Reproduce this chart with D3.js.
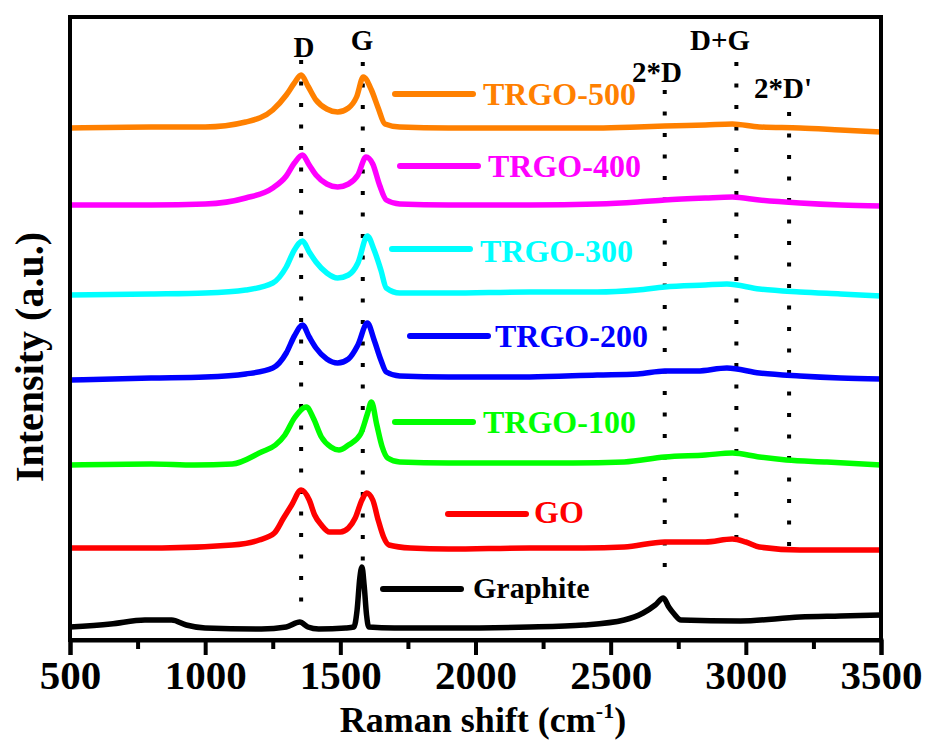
<!DOCTYPE html>
<html>
<head>
<meta charset="utf-8">
<script src="https://cdn.jsdelivr.net/npm/d3@7"></script>
<style>
  body { margin: 0; background: #fff; }
  text { font-family: "Liberation Serif", "Times New Roman", serif; font-weight: bold; }
</style>
</head>
<body>
<svg id="chart"></svg>
<script>
// series, top to bottom in the picture
var names = ["TRGO-500", "TRGO-400", "TRGO-300", "TRGO-200", "TRGO-100", "GO", "Graphite"];
var colors = ["#ff8000", "#ff00ff", "#00ffff", "#0000ff", "#00ff00", "#ff0000", "#000000"];

// [Raman shift, intensity (offset a.u.)]
var trgo500 = [[500,512],[800,513],[1000,513],[1150,518],[1250,530],[1300,545],[1330,557],[1355,565],[1380,554],[1410,540],[1450,531],[1490,528],[1530,532],[1560,543],[1585,563],[1615,550],[1640,532],[1665,516],[1720,513],[1900,512],[2200,512],[2450,512],[2600,513],[2700,514],[2850,515],[2950,516],[3050,513],[3200,512],[3350,510],[3500,508]];
var trgo400 = [[500,435],[800,435],[1000,436],[1150,442],[1250,452],[1300,464],[1330,477],[1360,485],[1385,475],[1410,465],[1450,456],[1490,453],[1530,456],[1565,465],[1595,483],[1620,476],[1645,455],[1670,440],[1720,436],[1900,435],[2200,435],[2450,436],[2600,438],[2700,440],[2850,442],[2950,443],[3050,440],[3200,437],[3350,435],[3500,434]];
var trgo300 = [[500,345],[800,346],[1000,347],[1150,350],[1250,357],[1300,373],[1330,390],[1360,399],[1385,388],[1410,378],[1450,367],[1490,362],[1530,365],[1565,377],[1600,404],[1625,390],[1650,370],[1670,352],[1720,347],[1900,347],[2200,348],[2450,348],[2600,350],[2700,353],[2850,355],[2930,356],[3050,351],[3200,348],[3350,346],[3500,344]];
var trgo200 = [[500,260],[800,262],[1000,263],[1150,266],[1250,272],[1300,287],[1330,304],[1360,315],[1385,303],[1410,292],[1450,281],[1490,277],[1530,281],[1565,295],[1600,317],[1625,300],[1650,280],[1670,268],[1720,264],[1900,263],[2200,263],[2450,265],[2600,266],[2700,269],[2820,269],[2930,272],[3050,267],[3200,264],[3350,262],[3500,261]];
var trgo100 = [[500,175],[800,176],[961,175],[1100,176],[1208,188],[1260,195],[1295,205],[1330,222],[1375,233],[1400,222],[1430,203],[1465,193],[1495,190],[1530,195],[1575,206],[1600,226],[1615,238],[1635,215],[1655,193],[1675,182],[1720,178],[1900,177],[2200,177],[2360,177],[2550,178],[2700,183],[2850,185],[2950,187],[3050,183],[3150,180],[3300,178],[3500,175]];
var go = [[500,92],[840,92],[1100,95],[1200,100],[1256,107],[1290,122],[1320,135],[1355,150],[1385,140],[1405,125],[1430,115],[1460,108],[1500,108],[1530,112],[1555,122],[1580,140],[1597,147],[1620,140],[1640,120],[1660,103],[1680,95],[1760,92],[1900,91],[2200,92],[2400,92],[2550,93],[2700,98],[2850,98],[2950,101],[3000,98],[3050,93],[3200,90],[3500,90]];
var graphite = [[500,13],[650,16],[777,20],[876,20],[930,15],[1000,12],[1208,11],[1300,13],[1350,18],[1380,13],[1420,11],[1520,12],[1550,13],[1562,30],[1572,62],[1580,73],[1588,55],[1597,25],[1605,13],[1700,12],[1900,12],[2200,13],[2400,15],[2550,20],[2620,27],[2665,35],[2695,42],[2715,33],[2735,26],[2760,20],[2980,19],[3200,23],[3350,24],[3500,25]];
var spectra = [trgo500, trgo400, trgo300, trgo200, trgo100, go, graphite];

// peak markers: position (cm-1) and extent (a.u.)
var peakLabels = ["D", "G", "2*D", "D+G", "2*D'"];
var peakShift = [1355, 1583, 2700, 2965, 3160];
var peakTop = [580, 578, 550, 578, 528];
var peakBottom = [30, 72, 65, 90, 84];

var xTicks = [500, 1000, 1500, 2000, 2500, 3000, 3500];
var xMinorTicks = [750, 1250, 1750, 2250, 2750, 3250];

// layout
var width = 928, height = 751;
var margin = { left: 70, right: 47, top: 17, bottom: 111 };
var legendPos = [[395, 94, 483, 105], [400, 166, 488, 177], [392, 249, 480, 262], [410, 336, 495, 347],
                 [395, 422, 483, 433], [448, 514, 534, 523], [383, 589, 473, 598]];
var peakLabelPos = [[304, 57], [362, 50], [657, 82], [720, 50], [783, 98]];

var svg = d3.select("#chart").attr("width", width).attr("height", height);

var x = d3.scaleLinear().domain([500, 3500]).range([margin.left, width - margin.right]);
var y = d3.scaleLinear().domain([0, 623]).range([height - margin.bottom, margin.top]);

// dotted peak lines
svg.selectAll("line.peak")
   .data(peakShift)
   .enter().append("line")
   .attr("class", "peak")
   .attr("x1", function(d) { return x(d); })
   .attr("x2", function(d) { return x(d); })
   .attr("y1", function(d, i) { return y(peakTop[i]); })
   .attr("y2", function(d, i) { return y(peakBottom[i]); })
   .attr("stroke", "#000")
   .attr("stroke-width", 4)
   .attr("stroke-dasharray", "4,17.5");

svg.selectAll("text.peak")
   .data(peakLabels)
   .enter().append("text")
   .attr("class", "peak")
   .attr("x", function(d, i) { return peakLabelPos[i][0]; })
   .attr("y", function(d, i) { return peakLabelPos[i][1]; })
   .attr("text-anchor", "middle")
   .attr("font-size", 29)
   .text(function(d) { return d; });

var line = d3.line()
             .x(function(d) { return x(d[0]); })
             .y(function(d) { return y(d[1]); })
             .curve(d3.curveMonotoneX);

svg.selectAll("path.spec")
   .data(spectra)
   .enter().append("path")
   .attr("class", "spec")
   .attr("d", line)
   .attr("fill", "none")
   .attr("stroke", function(d, i) { return colors[i]; })
   .attr("stroke-width", 5.5)
   .attr("stroke-linejoin", "round");

// legend
var leg = svg.selectAll("g.leg")
             .data(names)
             .enter().append("g")
             .attr("class", "leg");
leg.append("line")
   .attr("x1", function(d, i) { return legendPos[i][0]; })
   .attr("x2", function(d, i) { return legendPos[i][0] + 78; })
   .attr("y1", function(d, i) { return legendPos[i][1]; })
   .attr("y2", function(d, i) { return legendPos[i][1]; })
   .attr("stroke", function(d, i) { return colors[i]; })
   .attr("stroke-width", 6)
   .attr("stroke-linecap", "round");
leg.append("text")
   .attr("x", function(d, i) { return legendPos[i][2]; })
   .attr("y", function(d, i) { return legendPos[i][3]; })
   .attr("font-size", function(d, i) { return i == 6 ? 30 : 32; })
   .attr("fill", function(d, i) { return colors[i]; })
   .text(function(d) { return d; });

// frame
svg.append("rect")
   .attr("x", margin.left)
   .attr("y", margin.top)
   .attr("width", width - margin.left - margin.right)
   .attr("height", height - margin.top - margin.bottom)
   .attr("fill", "none")
   .attr("stroke", "#000")
   .attr("stroke-width", 4);

var xAxis = svg.append("g")
               .attr("transform", "translate(0," + (height - margin.bottom) + ")")
               .call(d3.axisBottom(x).tickValues(xTicks).tickSize(15).tickFormat(d3.format("d")));
xAxis.select(".domain").attr("stroke-width", 4);
xAxis.selectAll(".tick line").attr("stroke-width", 4);
xAxis.selectAll(".tick text")
     .attr("font-size", 41)
     .attr("dy", "0.9em")
     .attr("y", 12);

var xMinor = svg.append("g")
                .attr("transform", "translate(0," + (height - margin.bottom) + ")")
                .call(d3.axisBottom(x).tickValues(xMinorTicks).tickSize(9).tickFormat(""));
xMinor.select(".domain").remove();
xMinor.selectAll(".tick line").attr("stroke-width", 4);

// axis titles
var xt = svg.append("text")
            .attr("x", 483)
            .attr("y", 732)
            .attr("text-anchor", "middle")
            .attr("font-size", 36);
xt.append("tspan").text("Raman shift (cm");
xt.append("tspan").attr("font-size", 22).attr("dy", -14).text("-1");
xt.append("tspan").attr("dy", 14).text(")");

svg.append("text")
   .attr("transform", "translate(43,357) rotate(-90)")
   .attr("text-anchor", "middle")
   .attr("font-size", 40)
   .text("Intensity (a.u.)");
</script>
</body>
</html>
